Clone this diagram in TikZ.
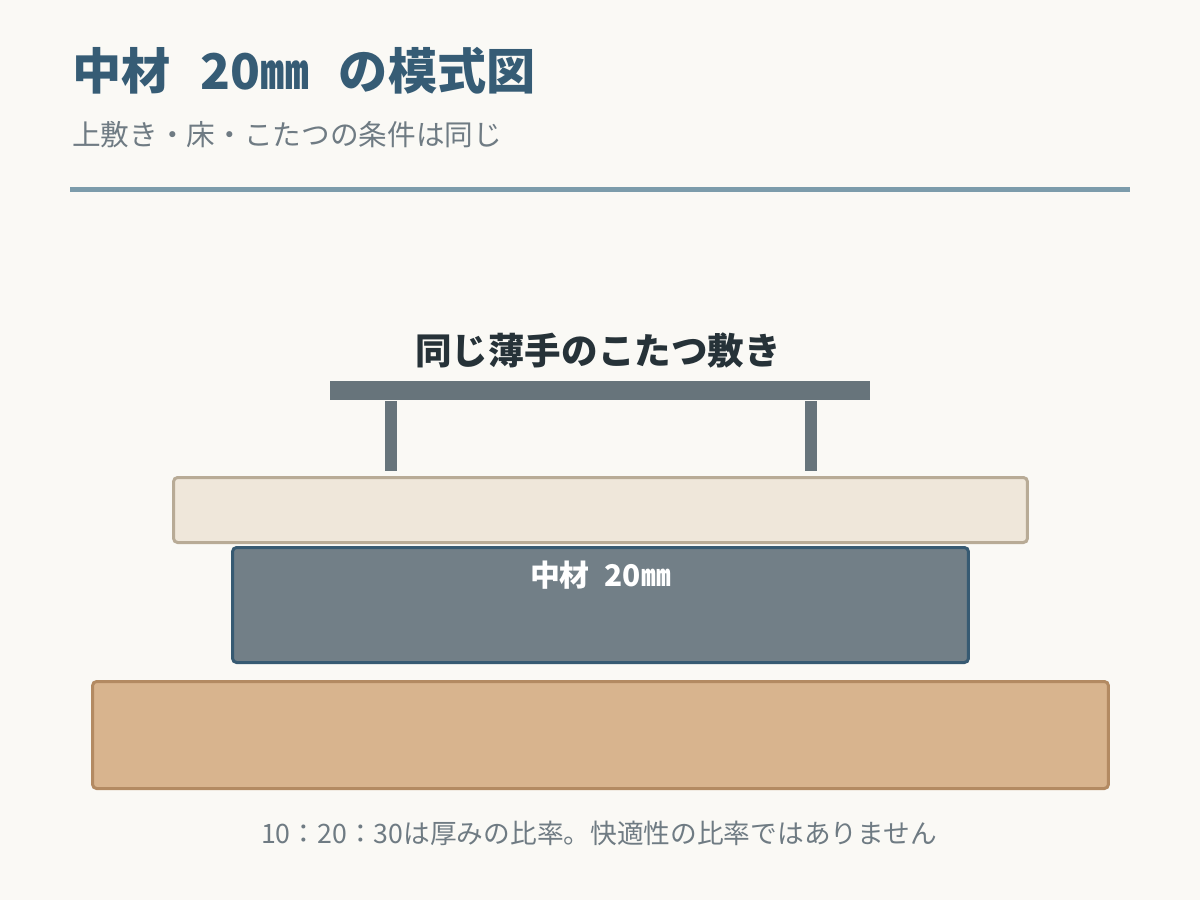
\documentclass[tikz,border=0pt]{standalone}
\usepackage{fontspec}
\setmainfont{Noto Sans CJK JP}
\usetikzlibrary{positioning}
\definecolor{paper}{HTML}{FAF9F5}
\definecolor{ink}{HTML}{365C75}
\definecolor{muted}{HTML}{6F7B83}
\definecolor{rulec}{HTML}{7C9CAB}
\definecolor{dark}{HTML}{263238}
\definecolor{table}{HTML}{67747B}
\definecolor{rugfill}{HTML}{EFE7DA}
\definecolor{rugline}{HTML}{B8AB96}
\definecolor{corefill}{HTML}{727F87}
\definecolor{coreline}{HTML}{375A72}
\definecolor{floorfill}{HTML}{D8B48E}
\definecolor{floorline}{HTML}{B38A62}
\begin{document}
\begin{tikzpicture}[
x = 0.02cm, y = -0.02cm,
node distance = 0.3cm,
     T/.style = {anchor=west, inner sep=0pt, font=\fontsize{28}{30}\selectfont\bfseries, text=ink},
     S/.style = {anchor=west, inner sep=0pt, font=\fontsize{16.3}{18}\selectfont, text=muted},
     L/.style = {inner sep=0pt, font=\fontsize{20.8}{22}\selectfont\bfseries, text=dark},
     P/.style = {inner sep=0pt, fill=table},
     B/.style = {rounded corners=0.08cm, line width=0.06cm, inner sep=0pt}
                    ]
\useasboundingbox[fill=paper] (0,0) rectangle (1200,900);
% heading
\node (title) [T]  at (72,71)   {中材\hspace{0.6em}20㎜\hspace{0.6em}の模式図};
\node (sub)   [S]  at (72,135)  {上敷き・床・こたつの条件は同じ};
\coordinate (r1) at (70,189);
\coordinate (r2) at (1130,189);
\draw[rulec, line width=0.1cm]  (r1) -- (r2);
% kotatsu
\node (kl)    [L]  at (598,350) {同じ薄手のこたつ敷き};
\node (top)   [P, minimum width=10.8cm, minimum height=0.38cm] at (600,390.5) {};
\node (legl)  [P, minimum width=0.24cm, minimum height=1.4cm, below=0pt of top.south west, xshift=1.22cm, anchor=north] {};
\node (legr)  [P, minimum width=0.24cm, minimum height=1.4cm, below=0pt of top.south east, xshift=-1.18cm, anchor=north] {};
% layers
\node (rug)   [B, draw=rugline, fill=rugfill, minimum width=17.08cm, minimum height=1.3cm]   at (600.5,510) {};
\node (core)  [B, draw=coreline, fill=corefill, minimum width=14.72cm, minimum height=2.3cm] at (600.5,605) {};
\node (cl)    [below=of core.north, inner sep=0pt, font=\fontsize{17}{19}\selectfont\bfseries, text=white] {中材\hspace{0.5em}20㎜};
\node (floor) [B, draw=floorline, fill=floorfill, minimum width=20.32cm, minimum height=2.14cm] at (600.5,735) {};
% note
\node (note)  [inner sep=0pt, font=\fontsize{15.2}{17}\selectfont, text=muted] at (599,833) {10：20：30は厚みの比率。快適性の比率ではありません};
\end{tikzpicture}
\end{document}
